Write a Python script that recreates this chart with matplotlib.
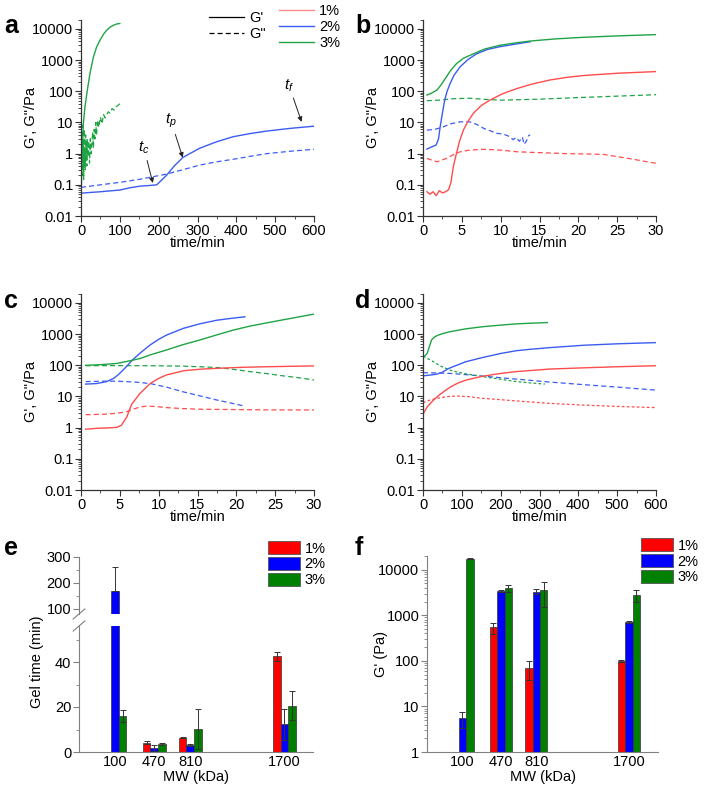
import numpy as np
import matplotlib
matplotlib.use("Agg")
import matplotlib.pyplot as plt
from matplotlib.lines import Line2D
from matplotlib.patches import Patch
from matplotlib.ticker import LogLocator, MultipleLocator, NullFormatter

plt.rcParams["font.family"] = ["Liberation Sans", "DejaVu Sans"]
plt.rcParams["font.size"] = 10.5
plt.rcParams["mathtext.fontset"] = "custom"
plt.rcParams["mathtext.rm"] = "Liberation Sans"
plt.rcParams["mathtext.it"] = "Liberation Sans:italic"

C_RED = "#ff4c4c"
C_BLUE = "#3b5cf2"
C_GREEN = "#1fa445"
BAR_RED = "#ff0000"
BAR_BLUE = "#0000ff"
BAR_GREEN = "#008000"

LOG_TICKS = [0.01, 0.1, 1, 10, 100, 1000, 10000]
LOG_LABELS = ["0.01", "0.1", "1", "10", "100", "1000", "10000"]

# ---- panel a (time in min, 0-600) ----
A3_G1_T = [0, 1, 2, 4, 6, 10, 15, 23, 32, 40, 49, 58, 66, 75, 83, 92, 100]
A3_G1 = [0.1, 0.1, 0.5, 2, 9, 30, 85, 370, 1260, 2600, 4400, 6800, 9100, 11500, 13000, 14500, 15000]
A3_G2_T = [1, 2, 3, 4, 5, 6, 7, 8, 9, 10, 11, 12, 13, 14, 15, 16, 18, 20, 22, 24, 26, 28,
           30, 32, 34, 36, 38, 40, 43, 46, 50, 54, 58, 62, 66, 70, 75, 80, 85, 90, 95, 100]
A3_G2 = [0.1, 3, 0.2, 8, 0.5, 2, 0.15, 6, 0.4, 1.5, 0.3, 4, 0.6, 2, 0.4, 3, 0.8, 2.5, 0.5, 3, 1, 2,
         5, 1.5, 6, 3, 10, 4, 12, 7, 15, 9, 18, 14, 17, 22, 20, 28, 25, 32, 35, 40]
A2_G1_T = [0, 25, 50, 75, 100, 125, 150, 175, 195, 220, 240, 262, 280, 306, 349, 392, 435, 478, 540, 600]
A2_G1 = [0.054, 0.057, 0.06, 0.064, 0.068, 0.08, 0.09, 0.095, 0.1, 0.2, 0.4, 0.75, 1.0, 1.5, 2.4,
         3.5, 4.4, 5.3, 6.5, 7.6]
A2_G2_T = [0, 50, 100, 150, 220, 260, 306, 350, 392, 435, 478, 540, 600]
A2_G2 = [0.083, 0.1, 0.12, 0.15, 0.22, 0.3, 0.43, 0.55, 0.66, 0.82, 1.0, 1.2, 1.38]

# ---- panel b (0-30 min) ----
B3_G1_T = [0.5, 1.0, 1.8, 2.4, 3.0, 3.6, 4.3, 5.2, 6.5, 8.0, 9.9, 12, 13.8, 17, 20.6, 25, 30]
B3_G1 = [76, 85, 110, 170, 290, 480, 770, 1150, 1600, 2300, 3000, 3600, 4100, 4800, 5400, 6000, 6600]
B2_G1_T = [0.5, 1.0, 1.7, 2.0, 2.2, 2.5, 2.8, 3.1, 3.5, 4.0, 4.8, 5.8, 6.9, 8.3, 9.9, 12, 13.8]
B2_G1 = [1.4, 1.6, 1.9, 3, 7, 20, 53, 100, 180, 330, 620, 1050, 1600, 2200, 2700, 3300, 3900]
B1_G1_T = [0.5, 0.9, 1.3, 1.7, 2.1, 2.5, 2.9, 3.3, 3.6, 3.9, 4.3, 4.7, 5.2, 5.8, 6.5, 7.5, 8.6,
           10.3, 12.1, 14, 16.3, 18.5, 20.6, 25, 30]
B1_G1 = [0.06, 0.05, 0.06, 0.045, 0.065, 0.055, 0.06, 0.07, 0.12, 0.38, 1.0, 2.5, 5.7, 11, 20, 35, 52,
         85, 123, 170, 230, 280, 320, 380, 430]
B3_G2_T = [0.5, 2, 4, 6, 8, 10, 15, 20, 25, 30]
B3_G2 = [50, 52, 58, 60, 55, 52, 56, 63, 70, 78]
B2_G2_T = [0.5, 1.5, 2.6, 3.5, 4.8, 6, 7, 7.8, 8.6, 9.5, 10.4, 11.2, 11.6, 12.0, 12.4, 12.8, 13.0,
           13.3, 13.6, 13.8]
B2_G2 = [5.7, 6, 7.2, 9, 10.5, 10.5, 8.5, 6.5, 5.5, 4.5, 4.2, 3.5, 2.8, 3.3, 2.5, 3.4, 2.0, 2.5, 3.8, 4.0]
B1_G2_T = [0.5, 1.8, 3.0, 4.0, 4.8, 6, 7.8, 10, 12.1, 14, 16.3, 18.5, 20.6, 23.2, 26.5, 30]
B1_G2 = [0.7, 0.55, 0.7, 0.95, 1.15, 1.3, 1.38, 1.3, 1.15, 1.1, 1.05, 1.0, 0.98, 0.95, 0.7, 0.49]

# ---- panel c (0-30 min) ----
C3_G1_T = [0.6, 2.5, 4.6, 6, 7.6, 9, 11, 13, 15.3, 17.5, 19.6, 21.7, 23.9, 27, 30]
C3_G1 = [100, 105, 115, 135, 165, 220, 310, 450, 650, 950, 1350, 1800, 2300, 3200, 4400]
C2_G1_T = [0.6, 2, 3.3, 4.2, 4.8, 5.4, 6.0, 6.7, 7.8, 8.9, 10, 11, 13.2, 15.3, 17.5, 19.5, 21.1]
C2_G1 = [25, 26, 30, 38, 50, 70, 100, 155, 270, 450, 680, 930, 1540, 2150, 2800, 3250, 3600]
C1_G1_T = [0.6, 2, 3.5, 4.6, 5.2, 5.9, 6.5, 7.6, 8.9, 10, 11, 13.2, 15.3, 17.5, 20.5, 23.9, 27, 30]
C1_G1 = [0.89, 0.95, 0.98, 1.02, 1.2, 2.2, 5.5, 12.6, 26, 38, 49, 67, 75, 80, 86, 90, 93, 96]
C3_G2_T = [0.6, 4, 8, 11, 13.2, 15.3, 17.5, 19.5, 21.7, 24, 26, 28, 30]
C3_G2 = [97, 98, 97, 96, 94, 90, 85, 75, 63, 54, 46, 40, 34]
C2_G2_T = [0.6, 3, 4.6, 7, 8.9, 11, 13.2, 15.3, 17.5, 19.5, 21.1]
C2_G2 = [30, 31, 31, 29, 26, 20, 14, 10.5, 7.7, 6, 4.9]
C1_G2_T = [0.6, 3, 4.6, 5.8, 6.7, 7.6, 8.4, 9.5, 11, 13, 15.3, 20, 25, 30]
C1_G2 = [2.6, 2.7, 2.9, 3.2, 3.9, 4.6, 4.9, 4.8, 4.4, 4.1, 3.9, 3.8, 3.7, 3.7]

# ---- panel d (0-600 min) ----
D3_G1_T = [0, 5, 11, 17, 22, 30, 39, 55, 70, 110, 155, 200, 241, 280, 320]
D3_G1 = [190, 200, 245, 420, 650, 820, 930, 1080, 1200, 1480, 1740, 1950, 2140, 2250, 2350]
D2_G1_T = [0, 20, 35, 50, 57, 65, 78, 110, 155, 200, 241, 280, 327, 413, 500, 600]
D2_G1 = [46, 49, 52, 60, 68, 78, 91, 130, 180, 240, 295, 330, 370, 440, 490, 535]
D1_G1_T = [0, 10, 27, 45, 70, 90, 112, 155, 200, 241, 327, 413, 500, 600]
D1_G1 = [2.7, 4.5, 7.7, 12, 20, 27, 34, 45, 55, 63, 76, 83, 90, 97]
D3_G2_T = [0, 10, 27, 45, 70, 90, 112, 155, 198, 241, 280, 314]
D3_G2 = [195, 170, 130, 95, 70, 60, 53, 43, 36, 30, 27, 25]
D2_G2_T = [0, 35, 70, 112, 155, 200, 241, 327, 413, 500, 600]
D2_G2 = [58, 57, 55, 50, 45, 40, 36, 29, 24, 20, 16]
D1_G2_T = [0, 15, 35, 60, 87, 120, 155, 200, 241, 327, 413, 500, 600]
D1_G2 = [6.3, 7.5, 8.7, 9.8, 10.4, 9.8, 8.7, 7.9, 7.2, 6.0, 5.3, 4.8, 4.4]

# ---- panels e, f (bars vs MW) ----
MW = [100, 470, 810, 1700]
MW_LABELS = ["100", "470", "810", "1700"]
GEL_1 = [np.nan, 4.1, 6.4, 42.5]
GEL_1_LO = [0, 0.7, 0.3, 2.0]
GEL_1_HI = [0, 0.7, 0.3, 2.0]
GEL_2 = [168, 1.8, 3.1, 12.3]
GEL_2_LO = [0, 1.2, 0.6, 7.0]
GEL_2_HI = [95, 1.2, 0.6, 7.0]
GEL_3 = [16.0, 3.7, 10.4, 20.6]
GEL_3_LO = [2.8, 0.4, 8.9, 6.4]
GEL_3_HI = [2.8, 0.4, 8.9, 6.4]

GP_1 = [np.nan, 540, 69, 100]
GP_1_ERR = [0, 150, 31, 5]
GP_2 = [5.5, 3400, 3300, 720]
GP_2_ERR = [2.2, 150, 400, 40]
GP_3 = [17500, 3950, 3500, 2750]
GP_3_ERR = [400, 700, 2000, 800]

GROUP_DX = [-72, 0, 72]
BAR_W = 72

W, H = 705, 789
fig = plt.figure(figsize=(W / 100, H / 100), dpi=100)


def box(l, t, r, b):
    return [l / W, 1 - b / H, (r - l) / W, (b - t) / H]


AX_COLOR = "#333333"
DASH = (0, (4, 2.5))
DOT_DASH = (0, (2.2, 1.8))


def rheo_axes(ax, xmax, xstep):
    ax.set_yscale("log")
    ax.set_xlim(0, xmax)
    ax.set_ylim(0.01, 20000)
    ax.set_yticks(LOG_TICKS)
    ax.set_yticklabels(LOG_LABELS)
    ax.yaxis.set_minor_locator(LogLocator(base=10, subs=(2, 3, 4, 5, 6, 7, 8, 9), numticks=20))
    ax.yaxis.set_minor_formatter(NullFormatter())
    ax.xaxis.set_major_locator(MultipleLocator(xstep))
    ax.xaxis.set_minor_locator(MultipleLocator(xstep / 2))
    for s in ("top", "right"):
        ax.spines[s].set_visible(False)
    for s in ("left", "bottom"):
        ax.spines[s].set_color(AX_COLOR)
        ax.spines[s].set_linewidth(0.9)
    ax.tick_params(which="major", length=4, width=0.8, color=AX_COLOR, pad=1.5)
    ax.tick_params(which="minor", length=2, width=0.6, color=AX_COLOR)
    ax.set_xlabel("time/min", labelpad=-1)
    ax.set_ylabel("G', G\"/Pa")
    ax.yaxis.set_label_coords(-0.185, 0.5)


def curves(ax, data):
    for t, v, color, style in data:
        if style is None:
            ax.plot(t, v, color=color, lw=1.0)
        else:
            ax.plot(t, v, color=color, lw=0.9, ls=style)


ax_a = fig.add_axes(box(81, 19.6, 314, 216))
ax_b = fig.add_axes(box(423, 19.6, 656, 216))
ax_c = fig.add_axes(box(81, 293.6, 314, 490))
ax_d = fig.add_axes(box(423, 293.6, 656, 490))

curves(ax_a, [(A2_G2_T, A2_G2, C_BLUE, DASH), (A2_G1_T, A2_G1, C_BLUE, None),
              (A3_G2_T, A3_G2, C_GREEN, DASH), (A3_G1_T, A3_G1, C_GREEN, None)])
curves(ax_b, [(B1_G2_T, B1_G2, C_RED, DASH), (B2_G2_T, B2_G2, C_BLUE, DASH),
              (B3_G2_T, B3_G2, C_GREEN, DASH), (B1_G1_T, B1_G1, C_RED, None),
              (B2_G1_T, B2_G1, C_BLUE, None), (B3_G1_T, B3_G1, C_GREEN, None)])
curves(ax_c, [(C1_G2_T, C1_G2, C_RED, DASH), (C2_G2_T, C2_G2, C_BLUE, DASH),
              (C3_G2_T, C3_G2, C_GREEN, DASH), (C1_G1_T, C1_G1, C_RED, None),
              (C2_G1_T, C2_G1, C_BLUE, None), (C3_G1_T, C3_G1, C_GREEN, None)])
curves(ax_d, [(D1_G2_T, D1_G2, C_RED, DOT_DASH), (D2_G2_T, D2_G2, C_BLUE, DASH),
              (D3_G2_T, D3_G2, C_GREEN, DOT_DASH), (D1_G1_T, D1_G1, C_RED, None),
              (D2_G1_T, D2_G1, C_BLUE, None), (D3_G1_T, D3_G1, C_GREEN, None)])

rheo_axes(ax_a, 600, 100)
rheo_axes(ax_b, 30, 5)
rheo_axes(ax_c, 30, 5)
rheo_axes(ax_d, 600, 100)

# gel point markers on panel a
arrow = dict(arrowstyle="-|>", color="#222222", lw=0.7, mutation_scale=7, shrinkA=1, shrinkB=0)
ax_a.annotate(r"$t_c$", xy=(185, 0.115), xytext=(162, 1.5), ha="center", va="center",
              fontsize=11, arrowprops=arrow)
ax_a.annotate(r"$t_p$", xy=(262, 0.75), xytext=(232, 11), ha="center", va="center",
              fontsize=11, arrowprops=arrow)
ax_a.annotate(r"$t_f$", xy=(568, 10.5), xytext=(536, 150), ha="center", va="center",
              fontsize=11, arrowprops=arrow)

leg_kw = dict(frameon=False, loc="upper left", borderpad=0, borderaxespad=0,
              handlelength=2.4, handletextpad=0.35, labelspacing=0.15, fontsize=10.5)
fig.legend([Line2D([], [], color="black", lw=0.9),
            Line2D([], [], color="black", lw=0.9, ls=DASH)],
           ["G'", 'G"'], bbox_to_anchor=(209 / W, 1 - 11 / H), **leg_kw)
fig.legend([Line2D([], [], color="#ff8a8a", lw=1.0), Line2D([], [], color=C_BLUE, lw=1.0),
            Line2D([], [], color=C_GREEN, lw=1.0)],
           ["1%", "2%", "3%"], bbox_to_anchor=(279 / W, 1 - 4 / H), **leg_kw)

# ---- panel e: broken axis ----
ax_e1 = fig.add_axes(box(79, 557, 313, 614))
ax_e0 = fig.add_axes(box(79, 626, 313, 752))
BAR_AX = "#808080"

for ax in (ax_e0, ax_e1):
    for vals, lo, hi, color, dx in [(GEL_1, GEL_1_LO, GEL_1_HI, BAR_RED, GROUP_DX[0]),
                                    (GEL_2, GEL_2_LO, GEL_2_HI, BAR_BLUE, GROUP_DX[1]),
                                    (GEL_3, GEL_3_LO, GEL_3_HI, BAR_GREEN, GROUP_DX[2])]:
        x = np.array(MW) + dx
        ax.bar(x, vals, width=BAR_W, color=color, edgecolor="#333333", linewidth=0.5, zorder=2)
        ax.errorbar(x, vals, yerr=[lo, hi], fmt="none", ecolor="#333333", elinewidth=0.7,
                    capsize=2, capthick=0.7, zorder=3)
    ax.set_xlim(-240, 1970)
    for s in ("top", "right"):
        ax.spines[s].set_visible(False)
    ax.spines["left"].set_color(BAR_AX)
    ax.spines["bottom"].set_color(BAR_AX)
    ax.tick_params(axis="y", which="major", length=4, width=0.8, color=BAR_AX, pad=1.5)
    ax.tick_params(axis="y", which="minor", length=2, width=0.6, color=BAR_AX)

ax_e1.set_ylim(80, 300)
ax_e1.set_yticks([100, 200, 300])
ax_e1.yaxis.set_minor_locator(MultipleLocator(50))
ax_e1.spines["bottom"].set_visible(False)
ax_e1.set_xticks([])

ax_e0.set_ylim(0, 56)
ax_e0.set_yticks([0, 20, 40])
ax_e0.yaxis.set_minor_locator(MultipleLocator(10))
ax_e0.set_xticks(MW)
ax_e0.set_xticklabels(MW_LABELS)
ax_e0.tick_params(axis="x", length=0, pad=2)
ax_e0.set_xlabel("MW (kDa)", labelpad=1)
fig.text(37 / W, 1 - 662 / H, "Gel time (min)", rotation=90, ha="center", va="center",
         fontsize=10.5)

# break marks on the left axis
for ax, yy, k in ((ax_e1, 0.0, 2.2), (ax_e0, 1.0, 1.0)):
    ax.plot([-0.025, 0.025], [yy - 0.04 * k, yy + 0.04 * k],
            transform=ax.transAxes, color=BAR_AX, lw=0.8, clip_on=False)

# ---- panel f ----
ax_f = fig.add_axes(box(427, 556, 658, 752))
for vals, err, color, dx in [(GP_1, GP_1_ERR, BAR_RED, GROUP_DX[0]),
                             (GP_2, GP_2_ERR, BAR_BLUE, GROUP_DX[1]),
                             (GP_3, GP_3_ERR, BAR_GREEN, GROUP_DX[2])]:
    x = np.array(MW) + dx
    ax_f.bar(x, vals, width=BAR_W, color=color, edgecolor="#333333", linewidth=0.5, zorder=2)
    ax_f.errorbar(x, vals, yerr=err, fmt="none", ecolor="#333333", elinewidth=0.7,
                  capsize=2, capthick=0.7, zorder=3)
ax_f.set_yscale("log")
ax_f.set_ylim(1, 20000)
ax_f.set_xlim(-240, 1980)
ax_f.set_yticks([1, 10, 100, 1000, 10000])
ax_f.set_yticklabels(["1", "10", "100", "1000", "10000"])
ax_f.yaxis.set_minor_locator(LogLocator(base=10, subs=(2, 3, 4, 5, 6, 7, 8, 9), numticks=20))
ax_f.yaxis.set_minor_formatter(NullFormatter())
for s in ("top", "right"):
    ax_f.spines[s].set_visible(False)
ax_f.spines["left"].set_color(BAR_AX)
ax_f.spines["bottom"].set_color(BAR_AX)
ax_f.tick_params(axis="y", which="major", length=4, width=0.8, color=BAR_AX, pad=1.5)
ax_f.tick_params(axis="y", which="minor", length=2, width=0.6, color=BAR_AX)
ax_f.set_xticks(MW)
ax_f.set_xticklabels(MW_LABELS)
ax_f.tick_params(axis="x", length=0, pad=2)
ax_f.set_xlabel("MW (kDa)", labelpad=1)
ax_f.set_ylabel("G' (Pa)")
ax_f.yaxis.set_label_coords(-0.17, 0.5)

bar_leg = dict(frameon=False, loc="upper left", borderpad=0, borderaxespad=0,
               handlelength=2.2, handleheight=1.0, handletextpad=0.3, labelspacing=0.1,
               fontsize=10.5)
bar_handles = [Patch(facecolor=BAR_RED, edgecolor="#555555", lw=0.6),
               Patch(facecolor=BAR_BLUE, edgecolor="#555555", lw=0.6),
               Patch(facecolor=BAR_GREEN, edgecolor="#555555", lw=0.6)]
fig.legend(bar_handles, ["1%", "2%", "3%"], bbox_to_anchor=(268 / W, 1 - 541 / H), **bar_leg)
fig.legend(bar_handles, ["1%", "2%", "3%"], bbox_to_anchor=(641 / W, 1 - 538 / H), **bar_leg)

# panel letters
for x, y, s in [(4, 33, "a"), (355, 33, "b"), (4, 308, "c"), (355, 308, "d"),
                (4, 555, "e"), (355, 555, "f")]:
    fig.text(x / W, 1 - y / H, s, fontsize=18, fontweight="bold", ha="left", va="baseline")

fig.savefig("out.png", dpi=100)
